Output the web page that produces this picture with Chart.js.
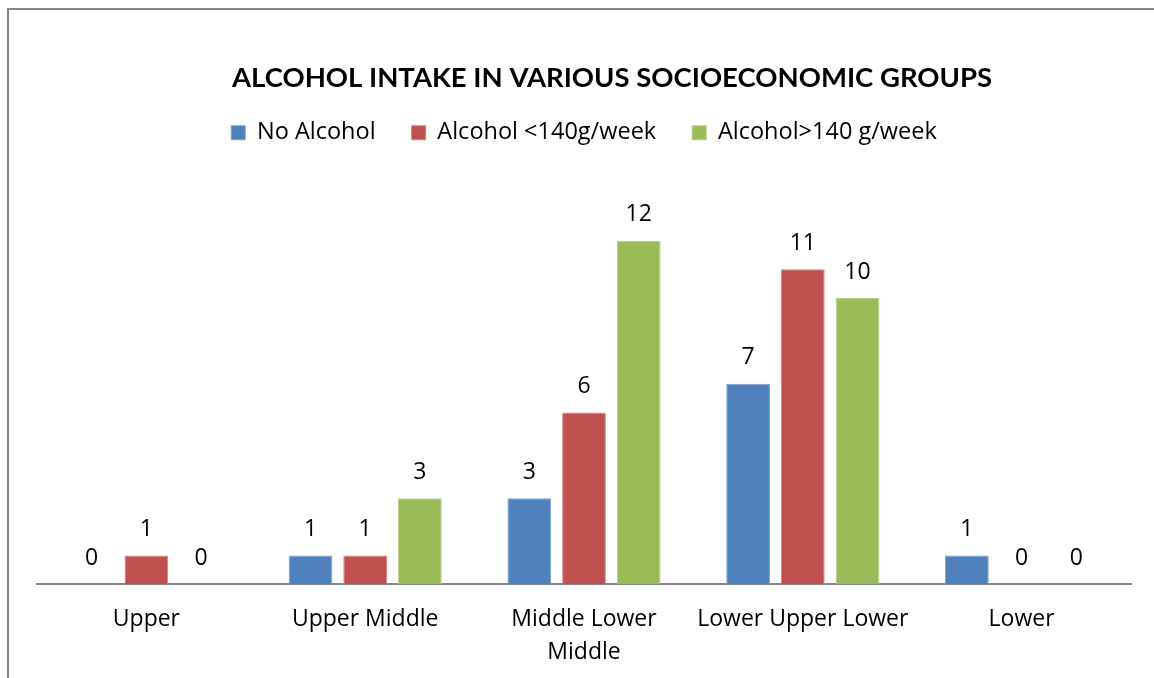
<!DOCTYPE html>
<html>
<head>
<meta charset="utf-8">
<script src="https://cdn.jsdelivr.net/npm/chart.js@4.4.1/dist/chart.umd.min.js"></script>
<style>
  html, body { margin: 0; padding: 0; background: #fff; }
  #wrap { position: relative; width: 1154px; height: 678px; overflow: hidden; }
  #frame {
    position: absolute; left: 7px; top: 8px; width: 1200px; height: 720px;
    border-left: 2px solid #868686; border-top: 2px solid #868686;
  }
  canvas { position: absolute; left: 0; top: 0; }
</style>
</head>
<body>
<div id="wrap">
  <div id="frame"></div>
  <canvas id="plot" width="1154" height="678"></canvas>
</div>
<script>
const groups = ['Upper', 'Upper Middle', ['Middle Lower', 'Middle'], 'Lower Upper Lower', 'Lower'];
const noAlcohol = [0, 1, 3, 7, 1];
const alcoholUnder140 = [1, 1, 6, 11, 0];
const alcoholOver140 = [0, 3, 12, 10, 0];

const titleText = 'ALCOHOL INTAKE IN VARIOUS SOCIOECONOMIC GROUPS';

// value above every bar, zeros included
const barValues = {
    id: 'barValues',
    afterDatasetsDraw(chart) {
        const c = chart.ctx;
        c.save();
        c.font = '23px "Open Sans"';
        c.fillStyle = '#000';
        c.textAlign = 'center';
        c.textBaseline = 'middle';
        chart.data.datasets.forEach((ds, i) => {
            chart.getDatasetMeta(i).data.forEach((bar, j) => {
                c.fillText(String(ds.data[j]), bar.x, bar.y - 26);
            });
        });
        c.restore();
    }
};

const chartTitle = {
    id: 'chartTitle',
    afterDraw(chart) {
        const c = chart.ctx;
        c.save();
        c.font = 'bold 27.5px Lato';
        c.fillStyle = '#000';
        c.textAlign = 'center';
        c.textBaseline = 'middle';
        c.fillText(titleText, 612, 78);
        c.restore();
    }
};

// extra room between the legend and the bars
const legendGap = {
    id: 'legendGap',
    beforeInit(chart) {
        const fit = chart.legend.fit;
        chart.legend.fit = function () {
            fit.bind(chart.legend)();
            this.height += 29;
        };
    }
};

const ctx = document.getElementById('plot').getContext('2d');
new Chart(ctx, {
    type: 'bar',
    data: {
        labels: groups,
        datasets: [
            { label: 'No Alcohol', data: noAlcohol, backgroundColor: '#4F81BD', borderColor: '#7FA3D0', borderWidth: 1 },
            { label: 'Alcohol <140g/week', data: alcoholUnder140, backgroundColor: '#C0504D', borderColor: '#D58280', borderWidth: 1 },
            { label: 'Alcohol>140 g/week', data: alcoholOver140, backgroundColor: '#9BBB59', borderColor: '#B9D08A', borderWidth: 1 }
        ]
    },
    options: {
        responsive: false,
        animation: false,
        layout: { padding: { top: 85, left: 37, right: 23, bottom: -2 } },
        datasets: { bar: { categoryPercentage: 0.75, barPercentage: 0.8 } },
        scales: {
            x: {
                grid: { display: false },
                border: { color: '#868686', width: 2 },
                ticks: {
                    color: '#000',
                    padding: 11,
                    maxRotation: 0,
                    autoSkip: false,
                    font: { family: '"Open Sans"', size: 23, lineHeight: 1.43 }
                }
            },
            y: { display: false, min: 0, max: 14 }
        },
        plugins: {
            legend: {
                position: 'top',
                labels: {
                    color: '#000',
                    boxWidth: 14,
                    boxHeight: 14,
                    padding: 36,
                    font: { family: '"Open Sans"', size: 23.5 }
                }
            },
            tooltip: { enabled: false }
        }
    },
    plugins: [barValues, chartTitle, legendGap]
});
</script>
</body>
</html>
